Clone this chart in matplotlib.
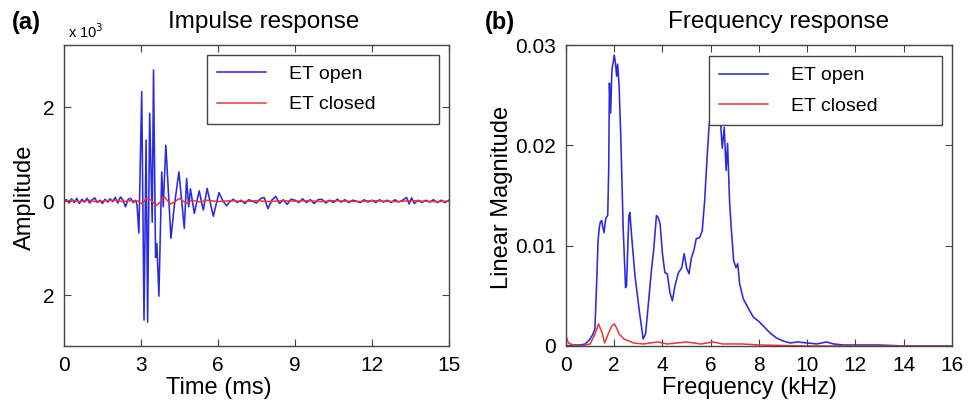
import matplotlib
matplotlib.use("Agg")
import matplotlib.pyplot as plt

plt.rcParams['font.family'] = ['Liberation Sans', 'DejaVu Sans']

# ---- (a) impulse response, amplitude in units of 10^-3 ----
t_open = [0.0, 0.1, 0.2, 0.3, 0.4, 0.5, 0.6, 0.7, 0.8, 0.9, 1.0, 1.1, 1.2, 1.3,
          1.4, 1.5, 1.6, 1.7, 1.8, 1.9, 2.0, 2.1, 2.2, 2.3, 2.4, 2.5, 2.6, 2.7,
          2.8, 2.85, 2.92, 3.03, 3.12, 3.2, 3.26, 3.34, 3.44, 3.49, 3.57, 3.62,
          3.7, 3.81, 3.87, 3.97, 4.17, 4.3, 4.48, 4.69, 4.78, 4.86, 4.93, 5.08,
          5.27, 5.43, 5.58, 5.82, 6.04, 6.2, 6.34, 6.45, 6.6, 6.75, 6.9, 7.05,
          7.2, 7.35, 7.5, 7.65, 7.8, 7.95, 8.1, 8.25, 8.4, 8.55, 8.7, 8.85, 9.0,
          9.15, 9.3, 9.45, 9.6, 9.75, 9.9, 10.05, 10.2, 10.35, 10.5, 10.65, 10.8,
          10.95, 11.1, 11.25, 11.4, 11.55, 11.7, 11.85, 12.0, 12.15, 12.3, 12.45,
          12.6, 12.75, 12.9, 13.05, 13.2, 13.35, 13.45, 13.55, 13.65, 13.8, 13.95,
          14.1, 14.25, 14.4, 14.55, 14.7, 14.85, 15.0]
v_open = [0.0, 0.03, -0.04, 0.05, -0.03, 0.06, -0.05, 0.04, -0.02, 0.06, -0.04,
          0.03, 0.07, -0.03, 0.02, -0.05, 0.04, -0.02, 0.05, -0.01, 0.08, -0.04,
          0.09, 0.02, -0.12, 0.04, 0.06, -0.03, 0.02, -0.1, -0.68, 2.33, -2.53,
          1.3, -2.57, 1.87, -0.45, 2.79, -1.2, -0.9, -2.02, 0.62, -0.12, 1.19,
          -0.79, -0.1, 0.62, -0.58, 0.48, -0.12, 0.26, -0.26, 0.22, -0.19, 0.27,
          -0.32, 0.18, 0.0, -0.1, -0.02, 0.04, -0.03, 0.02, -0.05, 0.03, 0.0,
          -0.04, 0.05, 0.08, -0.16, 0.02, 0.1, -0.05, 0.03, -0.07, 0.04, 0.02,
          -0.03, 0.05, -0.03, 0.03, -0.05, 0.03, 0.04, -0.04, 0.02, -0.03, 0.04,
          -0.02, 0.03, -0.03, 0.02, 0.0, -0.03, 0.03, -0.02, 0.02, -0.03, 0.03,
          -0.02, 0.02, -0.03, 0.03, -0.02, 0.02, 0.08, -0.06, 0.07, -0.05, 0.02,
          -0.03, 0.02, -0.02, 0.03, -0.03, 0.02, -0.03, 0.02]

t_closed = [0.0, 0.3, 0.6, 1.0, 1.3, 1.6, 2.0, 2.3, 2.6, 2.9, 3.05, 3.2, 3.4,
            3.58, 3.75, 3.9, 4.05, 4.15, 4.3, 4.5, 4.65, 4.8, 5.0, 5.3, 5.6, 6.0,
            6.5, 7.0, 7.5, 8.0, 8.5, 9.0, 9.5, 10.0, 10.5, 11.0, 11.5, 12.0, 12.5,
            13.0, 13.5, 14.0, 14.5, 15.0]
v_closed = [0.0, 0.02, -0.01, 0.02, -0.02, 0.01, 0.02, -0.01, 0.01, 0.0, -0.06,
            0.06, 0.02, -0.1, -0.02, 0.1, 0.0, -0.06, -0.02, 0.06, 0.0, -0.04,
            0.02, -0.02, 0.02, -0.01, 0.01, -0.01, 0.01, -0.01, 0.01, 0.0, 0.01,
            -0.01, 0.01, 0.0, -0.01, 0.01, 0.0, -0.01, 0.01, 0.0, -0.01, 0.0]

time_ticks = [0, 3, 6, 9, 12, 15]
amp_ticks = [-2, 0, 2]
amp_ticklabels = ['2', '0', '2']

# ---- (b) frequency response ----
f_open = [0.0, 0.3, 0.6, 0.8, 1.0, 1.1, 1.2, 1.27, 1.33, 1.38, 1.43, 1.48, 1.53,
          1.58, 1.62, 1.66, 1.73, 1.77, 1.8, 1.85, 1.9, 1.92, 1.96, 2.0, 2.04,
          2.07, 2.1, 2.14, 2.2, 2.27, 2.37, 2.47, 2.51, 2.57, 2.61, 2.65, 2.72,
          2.86, 3.04, 3.2, 3.3, 3.4, 3.54, 3.64, 3.75, 3.82, 3.9, 4.0, 4.1, 4.2,
          4.31, 4.41, 4.52, 4.66, 4.8, 4.9, 5.0, 5.1, 5.2, 5.3, 5.4, 5.54, 5.65,
          5.75, 5.85, 5.93, 6.05, 6.2, 6.35, 6.4, 6.48, 6.56, 6.64, 6.7, 6.78,
          6.85, 6.95, 7.05, 7.12, 7.2, 7.35, 7.55, 7.76, 7.97, 8.18, 8.46, 8.73,
          9.0, 9.3, 9.6, 10.0, 10.4, 10.8, 11.1, 11.5, 12.0, 13.0, 14.0, 15.0, 16.0]
m_open = [0.0, 0.0001, 0.0001, 0.0002, 0.0007, 0.0011, 0.0017, 0.0062, 0.0105,
          0.0118, 0.0124, 0.0125, 0.0118, 0.0113, 0.0122, 0.0128, 0.013, 0.0175,
          0.0262, 0.0232, 0.0272, 0.0278, 0.0283, 0.029, 0.0284, 0.0277, 0.0269,
          0.0281, 0.026, 0.021, 0.0118, 0.0058, 0.006, 0.0105, 0.013, 0.0133,
          0.011, 0.007, 0.0035, 0.0007, 0.0012, 0.0038, 0.0075, 0.0097, 0.013,
          0.0128, 0.0122, 0.0092, 0.0073, 0.0072, 0.0053, 0.0045, 0.006, 0.0073,
          0.0078, 0.0092, 0.0078, 0.0072, 0.0088, 0.0095, 0.0107, 0.0108, 0.0115,
          0.0145, 0.0188, 0.0218, 0.025, 0.027, 0.0262, 0.0225, 0.0197, 0.0218,
          0.0175, 0.0202, 0.0145, 0.0118, 0.0085, 0.0078, 0.0082, 0.0062, 0.0047,
          0.0038, 0.0029, 0.0025, 0.002, 0.0013, 0.0008, 0.0005, 0.0003, 0.0004,
          0.0003, 0.0002, 0.0004, 0.0002, 0.0001, 0.0001, 0.0001, 0.0, 0.0, 0.0]

f_closed = [0.0, 0.1, 0.3, 0.6, 1.0, 1.2, 1.35, 1.5, 1.6, 1.75, 1.9, 2.0, 2.1,
            2.2, 2.4, 2.8, 3.2, 3.8, 4.2, 5.0, 5.6, 6.1, 6.5, 7.3, 8.0, 10.0, 16.0]
m_closed = [0.001, 0.0003, 0.0001, 0.0, 0.0002, 0.0012, 0.0022, 0.0013, 0.0003,
            0.0012, 0.002, 0.0022, 0.0018, 0.0012, 0.0007, 0.0003, 0.0002,
            0.0004, 0.0002, 0.0004, 0.0002, 0.0004, 0.0002, 0.0002, 0.0001, 0.0,
            0.0]

freq_ticks = [0, 2, 4, 6, 8, 10, 12, 14, 16]
mag_ticks = [0, 0.01, 0.02, 0.03]
mag_ticklabels = ['0', '0.01', '0.02', '0.03']

BLUE = '#2a2ae0'
RED = '#ee3333'

fig = plt.figure(figsize=(9.72, 4.04), dpi=100)
ax1 = fig.add_axes([0.0658, 0.1436, 0.396, 0.745])
ax2 = fig.add_axes([0.5823, 0.1436, 0.397, 0.745])


def style(ax):
    ax.tick_params(direction='in', top=True, right=True, length=5,
                   width=0.8, labelsize=15, color='#444444', pad=7)
    for s in ax.spines.values():
        s.set_color('#444444')
        s.set_linewidth(1.0)


def add_legend(ax, box):
    ax.legend(loc='upper left', bbox_to_anchor=box, mode='expand',
              fancybox=False, edgecolor='#444444', framealpha=1,
              fontsize=14, handlelength=2.5, handletextpad=1.2,
              labelspacing=0.65, borderpad=0.55, borderaxespad=0)


ax1.plot(t_open, v_open, color=BLUE, lw=1.15, label='ET open')
ax1.plot(t_closed, v_closed, color=RED, lw=1.1, label='ET closed')
ax1.set_xlim(0, 15)
ax1.set_ylim(-3.08, 3.32)
ax1.set_xticks(time_ticks)
ax1.set_yticks(amp_ticks)
ax1.set_yticklabels(amp_ticklabels)
style(ax1)
add_legend(ax1, (0.371, 0.731, 0.603, 0.236))

ax2.plot(f_open, m_open, color=BLUE, lw=1.15, label='ET open')
ax2.plot(f_closed, m_closed, color=RED, lw=1.1, label='ET closed')
ax2.set_xlim(0, 16)
ax2.set_ylim(0, 0.03)
ax2.set_xticks(freq_ticks)
ax2.set_yticks(mag_ticks)
ax2.set_yticklabels(mag_ticklabels)
style(ax2)
add_legend(ax2, (0.370, 0.721, 0.604, 0.242))

# titles, panel letters and axis labels
W, H = 972, 404
fig.text(264 / W, 1 - 22 / H, 'Impulse response', fontsize=17.5, ha='center', va='center')
fig.text(779 / W, 1 - 22 / H, 'Frequency response', fontsize=17.5, ha='center', va='center')
fig.text(12 / W, 1 - 22 / H, '(a)', fontsize=17, fontweight='bold', ha='left', va='center')
fig.text(485 / W, 1 - 22 / H, '(b)', fontsize=17, fontweight='bold', ha='left', va='center')
fig.text(68 / W, 1 - 32 / H, r'x 10$^{3}$', fontsize=10.5, ha='left', va='center')
fig.text(219 / W, 1 - 388 / H, 'Time (ms)', fontsize=17, ha='center', va='center')
fig.text(749 / W, 1 - 388 / H, 'Frequency (kHz)', fontsize=17, ha='center', va='center')
fig.text(25 / W, 1 - 197 / H, 'Amplitude', fontsize=17, rotation=90, ha='center', va='center')
fig.text(502 / W, 1 - 197 / H, 'Linear Magnitude', fontsize=17, rotation=90, ha='center', va='center')

fig.savefig('out.png', dpi=100)
